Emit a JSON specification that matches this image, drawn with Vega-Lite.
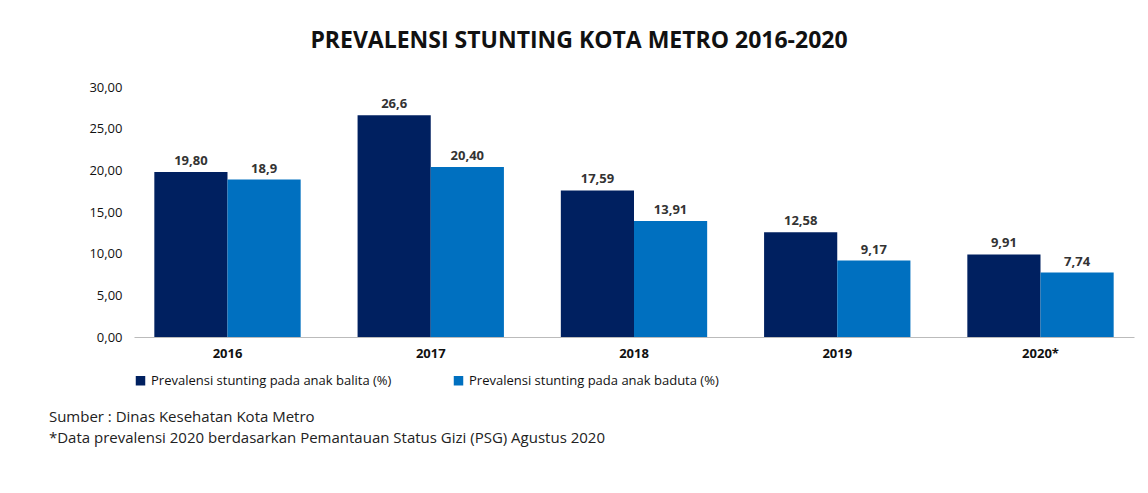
{
  "$schema": "https://vega.github.io/schema/vega-lite/v6.json",
  "padding": {"left": 48, "top": 30, "right": 40, "bottom": 10},
  "config": {
    "locale": {"number": {"decimal": ",", "thousands": ".", "grouping": [3], "currency": ["Rp", ""]}},
    "font": "Open Sans",
    "view": {"stroke": null}
  },
  "title": {
    "text": "Sumber :  Dinas Kesehatan Kota Metro",
    "subtitle": "\u00a0\u00a0\u00a0\u00a0\u00a0\u00a0\u00a0\u00a0\u00a0\u00a0\u00a0\u00a0\u00a0\u00a0\u00a0\u00a0\u00a0\u00a0\u00a0*Data prevalensi 2020 berdasarkan Pemantauan Status Gizi (PSG) Agustus 2020",
    "orient": "bottom",
    "anchor": "start",
    "fontSize": 15,
    "fontWeight": "normal",
    "subtitleFontSize": 15,
    "subtitlePadding": 6,
    "offset": 22,
    "dx": -40,
    "color": "#222",
    "subtitleColor": "#222",
    "font": "Open Sans",
    "subtitleFont": "Open Sans"
  },
  "data": {
    "values": [
      {"year": "2016", "series": "Prevalensi stunting pada anak balita (%)", "value": 19.80, "label": "19,80"},
      {"year": "2016", "series": "Prevalensi stunting pada anak baduta (%)", "value": 18.9, "label": "18,9"},
      {"year": "2017", "series": "Prevalensi stunting pada anak balita (%)", "value": 26.6, "label": "26,6"},
      {"year": "2017", "series": "Prevalensi stunting pada anak baduta (%)", "value": 20.40, "label": "20,40"},
      {"year": "2018", "series": "Prevalensi stunting pada anak balita (%)", "value": 17.59, "label": "17,59"},
      {"year": "2018", "series": "Prevalensi stunting pada anak baduta (%)", "value": 13.91, "label": "13,91"},
      {"year": "2019", "series": "Prevalensi stunting pada anak balita (%)", "value": 12.58, "label": "12,58"},
      {"year": "2019", "series": "Prevalensi stunting pada anak baduta (%)", "value": 9.17, "label": "9,17"},
      {"year": "2020*", "series": "Prevalensi stunting pada anak balita (%)", "value": 9.91, "label": "9,91"},
      {"year": "2020*", "series": "Prevalensi stunting pada anak baduta (%)", "value": 7.74, "label": "7,74"}
    ]
  },
  "vconcat": [
    {
      "title": {
        "text": "PREVALENSI STUNTING KOTA METRO 2016-2020",
        "fontSize": 23,
        "fontWeight": "bold",
        "color": "#111",
        "offset": 28,
        "dx": -55,
        "font": "Open Sans"
      },
      "width": 1000,
      "height": 250,
      "encoding": {
        "x": {
          "field": "year", "type": "nominal", "title": null,
          "scale": {"paddingInner": 0.28, "paddingOuter": 0.1},
          "axis": {"labelAngle": 0, "labelFontWeight": "bold", "labelFontSize": 13, "labelColor": "#111", "domainColor": "#bbb", "ticks": false, "labelPadding": 10}
        },
        "xOffset": {"field": "series", "type": "nominal", "sort": ["Prevalensi stunting pada anak balita (%)", "Prevalensi stunting pada anak baduta (%)"]},
        "y": {
          "field": "value", "type": "quantitative", "title": null,
          "scale": {"domain": [0, 30]},
          "axis": {"format": ".2f", "tickCount": 6, "grid": false, "domain": false, "ticks": false, "labelFontSize": 13, "labelColor": "#111", "labelPadding": 12}
        }
      },
      "layer": [
        {
          "mark": {"type": "bar"},
          "encoding": {
            "color": {
              "field": "series", "type": "nominal",
              "scale": {"domain": ["Prevalensi stunting pada anak balita (%)", "Prevalensi stunting pada anak baduta (%)"], "range": ["#002060", "#0070C0"]},
              "legend": {"orient": "bottom", "title": null, "direction": "horizontal", "symbolType": "square", "symbolSize": 90, "labelFontSize": 13, "labelColor": "#111", "labelLimit": 0, "columnPadding": 60, "offset": 14}
            }
          }
        },
        {
          "mark": {"type": "text", "dy": -11, "fontWeight": "bold", "fontSize": 13, "color": "#333"},
          "encoding": {"text": {"field": "label"}}
        }
      ]
    }
  ]
}
